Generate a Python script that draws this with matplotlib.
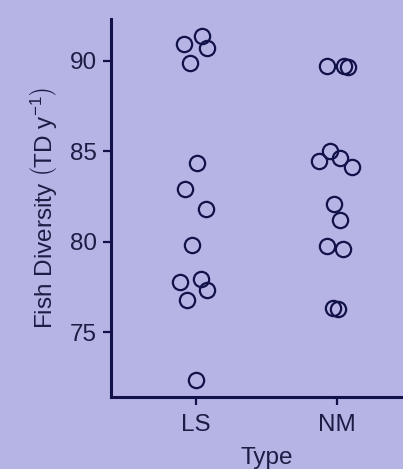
import numpy as np
import matplotlib
matplotlib.use("Agg")
import matplotlib.pyplot as plt

plt.rcParams["font.family"] = ["Liberation Sans", "DejaVu Sans"]
plt.rcParams["mathtext.fontset"] = "custom"
plt.rcParams["mathtext.rm"] = "Liberation Sans"
plt.rcParams["mathtext.it"] = "Liberation Sans:italic"

# data (jittered positions as drawn)
categories = ["LS", "NM"]
ls_x = [0.917, 1.047, 1.080, 0.957, 1.009, 0.924, 1.073, 0.970, 0.889, 1.038, 1.076, 0.938, 1.000]
ls_y = [90.96, 91.40, 90.73, 89.87, 84.38, 82.94, 81.82, 79.81, 77.75, 77.94, 77.33, 76.80, 72.36]
nm_x = [1.927, 2.048, 2.077, 1.946, 1.868, 2.017, 2.102, 1.979, 2.019, 1.927, 2.043, 1.968, 2.004]
nm_y = [89.74, 89.74, 89.69, 85.04, 84.48, 84.64, 84.14, 82.06, 81.18, 79.76, 79.60, 76.35, 76.30]
y_ticks = [75, 80, 85, 90]

bg = "#b6b4e4"
ink = "#12124a"
txt = "#1c1c44"

fig = plt.figure(figsize=(4.03, 4.69), dpi=100, facecolor=bg)
# axes right edge runs past the figure (image is cropped on the right)
W, H = 403, 469
left, right, bottom, top = 111, 422, 397, 19
ax = fig.add_axes([left / W, 1 - bottom / H, (right - left) / W, (bottom - top) / H])
ax.set_facecolor(bg)

for xs, ys in [(ls_x, ls_y), (nm_x, nm_y)]:
    ax.plot(xs, ys, linestyle="none", marker="o", markersize=11,
            markerfacecolor="none", markeredgecolor=ink, markeredgewidth=1.6)

ax.set_xlim(0.4, 2.6)
ax.set_ylim(71.41, 92.32)
ax.set_xticks([1, 2])
ax.set_xticklabels(categories)
ax.set_yticks(y_ticks)

for side in ["top", "right"]:
    ax.spines[side].set_visible(False)
for side in ["left", "bottom"]:
    ax.spines[side].set_linewidth(2.2)
    ax.spines[side].set_color(ink)

ax.tick_params(axis="both", colors=ink, labelcolor=txt, labelsize=17.5,
               length=6, width=1.6, pad=4)
ax.tick_params(axis="x", pad=6)

ax.set_xlabel("Type", fontsize=17.5, color=txt, labelpad=8)
ax.set_ylabel(r"Fish Diversity $\left(\mathrm{TD\ y^{-1}}\right)$", fontsize=17.5,
              color=txt, labelpad=8)

fig.savefig("out.png", dpi=100, facecolor=bg)
